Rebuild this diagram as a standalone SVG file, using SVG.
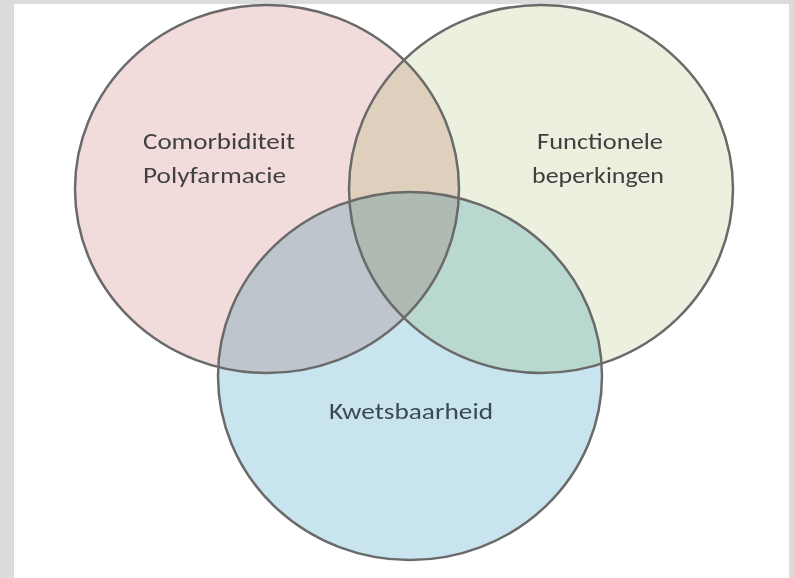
<svg xmlns="http://www.w3.org/2000/svg" width="794" height="578" viewBox="0 0 794 578">
<style>
.fill{mix-blend-mode:multiply}
.ring{fill:none;stroke:#6a6a6a;stroke-width:2.5}
.lbl{font-family:Carlito,"Liberation Sans",Arial,sans-serif;font-size:23px;fill:#404040}
</style>
<rect x="0" y="0" width="794" height="578" fill="#dcdcdc"/>
<rect x="14" y="4" width="775" height="574" fill="#ffffff"/>
<g id="fills" style="isolation:isolate">
<ellipse class="fill" cx="267" cy="189" rx="192" ry="184" fill="#f2dcdb"/>
<ellipse class="fill" cx="541" cy="189" rx="192" ry="184" fill="#ebf1de"/>
<ellipse class="fill" cx="410" cy="376" rx="192" ry="184" fill="#c8e5ef"/>
</g>
<g id="comorbiditeit">
<ellipse class="ring" cx="267" cy="189" rx="192" ry="184"/>
<text class="lbl" x="143" y="149" textLength="152" lengthAdjust="spacingAndGlyphs">Comorbiditeit</text>
<text class="lbl" x="143" y="183" textLength="143" lengthAdjust="spacingAndGlyphs">Polyfarmacie</text>
</g>
<g id="functionele">
<ellipse class="ring" cx="541" cy="189" rx="192" ry="184"/>
<text class="lbl" x="537" y="149" textLength="126" lengthAdjust="spacingAndGlyphs">Functionele</text>
<text class="lbl" x="532" y="183" textLength="132" lengthAdjust="spacingAndGlyphs">beperkingen</text>
</g>
<g id="kwetsbaarheid">
<ellipse class="ring" cx="410" cy="376" rx="192" ry="184"/>
<text class="lbl" x="329" y="419" textLength="164" lengthAdjust="spacingAndGlyphs" fill="#3b4a52" style="fill:#3b4a52">Kwetsbaarheid</text>
</g>
<g id="connectors"/>
</svg>
